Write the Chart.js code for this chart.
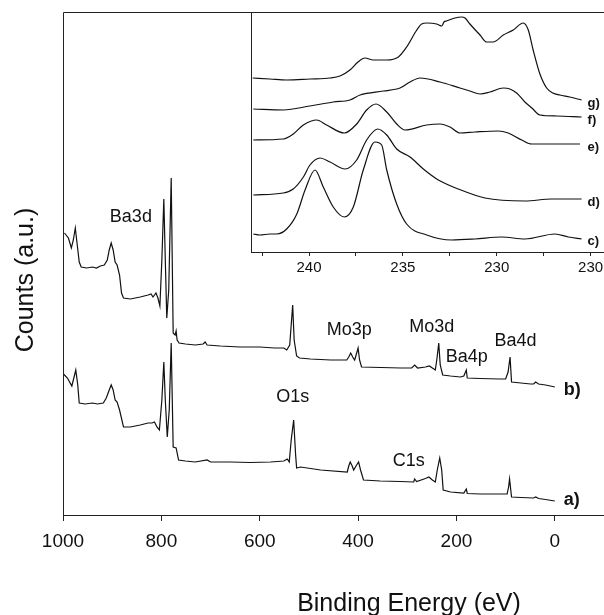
<!DOCTYPE html>
<html><head><meta charset="utf-8">
<script src="https://cdn.jsdelivr.net/npm/chart.js@4.4.0/dist/chart.umd.min.js"></script>
<style>
html,body{margin:0;padding:0;background:#fff;overflow:hidden;width:604px;height:615px;}
#main{position:absolute;left:0;top:0;width:604px;height:615px;}
#inset{position:absolute;left:241px;top:0;width:380px;height:290px;}
</style></head><body>
<canvas id="main" width="604" height="615"></canvas>
<canvas id="inset" width="380" height="290"></canvas>
<script>
// ---------- main survey spectra (binding energy eV, counts a.u.) ----------
const energyB = [997,989,983,979,975,971,967,963,952,940,932,924,916,910,906,902,898,894,890,885,881,877,863,843,827,821,817,811,807,803,799,795,792,789,785,780,776,772,770,768,764,751,731,715,711,707,680,640,600,570,551,545,539,533,530,525,519,497,456,423,419,415,411,407,404,400,397,393,354,313,291,285,279,263,255,249,243,240,236,233,228,212,192,185,180,178,152,112,100,95,91,88,69,49,43,39,33,19,9,0];
const countsB = [282,277,267,275,287,270,253,248,247,248,247,249,250,255,265,272,265,253,250,240,222,217,216,218,220,221,218,222,217,209,255,316,255,197,225,337,182,180,184,175,172,171,170,171,173,170,169,168,168,167,167,165,170,210,175,159,157,156,155,155,158,162,158,155,160,167,155,148,147.5,147,147,150,147,148,149,147,145,155,172,150,140,139,138,139,145,137,136.5,136,136,143,158,133,132,131,131,133,131,130,129,128];
const energyA = [999,991,982,978,974,970,967,955,940,930,918,912,906,902,898,894,890,885,877,863,843,827,819,814,809,804,799,795,792,788,784,780,776,770,765,751,731,707,700,660,619,578,551,544,540,536,531,527,525,517,476,422,419,416,412,409,403,399,395,389,355,314,287,285,281,263,256,249,243,239,234,230,227,212,185,180,178,152,97,94,92,88,69,43,39,33,19,0];
const countsA = [141,137,129,137,145,130,112,111,112,111,112,117,125,130,125,115,113,105,88,88,90,92,92,93,88,85,115,153,115,78,105,172,68,67,55,54,53,55,53,53,52.5,53,54,56,53,75,95,60,47,48,45,43,49,53,49,45,50,53,45,35,34,33.5,33,36,33.5,36.5,38,35,33,45,57,45,25,23,22,26,21.5,21,21,28,36,18,17.5,17,18,16.5,15.5,14];
const mainTickValues = [1000,800,600,400,200,0];
const peakLabels = ['Ba3d','O1s','Mo3p','Mo3d','Ba4p','Ba4d','C1s'];
const peakLabelE = [862,533,418,250,179,80,297];
const peakLabelV = [298,118,185,188,158,174,54];
const traceLabels = ['b)','a)'];
const traceLabelE = [-18,-18];
const traceLabelV = [125,15];

// ---------- inset: Mo3d region ----------
const gE = [243.00,242.08,241.19,239.95,238.88,238.35,237.82,237.39,237.02,236.58,235.86,235.24,234.80,234.26,234.00,233.73,233.20,233.08,232.93,232.81,232.67,232.23,231.87,231.69,231.43,230.89,230.54,230.19,229.65,229.12,228.59,228.32,228.06,227.70,227.34,227.01,226.64,226.11,225.48];
const gV = [174,173,172,173,174,176,182,190,194,192,192,195,205,222,228,229,228,227,226,230,231,234,235,234,228,217,210,210,217,222,229,222,202,178,164,159,157,155,152];
const fE = [242.97,241.37,239.95,238.71,237.82,237.28,236.04,235.15,234.62,234.09,233.02,231.96,231.43,230.89,230.36,229.65,229.30,228.94,228.50,228.13,227.70,226.81,225.48];
const fV = [143,142,146,150,152,157,161,164,170,174,170,164,161,158,160,164,163,159,150,144,137,136,135];
const eE = [242.97,241.37,240.84,240.30,239.59,239.06,238.12,237.46,236.93,236.43,235.86,235.33,234.89,233.73,233.02,232.49,231.96,231.16,229.92,229.39,228.67,228.14,225.57];
const eV = [112,113,118,127,132,127,119,128,142,148,140,128,122,127,128,125,119,120,121,119,112,108,108];
const dE = [242.97,241.37,240.84,240.30,239.95,239.41,238.88,238.08,237.46,236.93,236.34,235.86,235.33,234.62,233.91,233.11,232.05,230.63,228.50,227.08,225.48];
const dV = [57,59,63,75,87,94,90,83,92,112,123,117,103,95,83,72,63,54,51,53,53];
const cE = [242.97,242.61,242.08,241.72,241.19,240.65,240.21,239.68,239.24,238.71,238.12,237.64,237.11,236.49,236.13,235.86,235.33,234.80,233.73,232.40,231.16,229.74,228.50,226.90,226.19,225.48];
const cV = [18,17,18,18,23,38,62,82,65,45,35,45,82,110,107,82,48,28,17,12,13,15,13,18,15,13];
const insetTickValues = [242.5,240,237.5,235,232.5,230,227.5,225];
const insetLabelValues = [240,235,230,225];
const insetTickLabels = ['240','235','230','230'];
const insetCurveLabels = ['g)','f)','e)','d)','c)'];
const insetCurveLabelE = [225.16,225.16,225.16,225.16,225.16];
const insetCurveLabelV = [149,132,105,50,11];

const FONT = "'Liberation Sans', Arial, Helvetica, sans-serif";
const INK = '#111';
const pts = (xs, ys) => xs.map((x, i) => ({x: x, y: ys[i]}));

const framePlugin = {
  id: 'frame',
  afterDraw(chart) {
    const {ctx, chartArea: ca} = chart;
    ctx.save();
    ctx.strokeStyle = '#222';
    ctx.lineWidth = 1;
    ctx.beginPath();
    ctx.moveTo(Math.round(ca.left) + 0.5, Math.round(ca.bottom));
    ctx.lineTo(Math.round(ca.left) + 0.5, Math.round(ca.top) + 0.5);
    ctx.lineTo(ca.right + 20, Math.round(ca.top) + 0.5);
    ctx.stroke();
    ctx.restore();
  }
};

function drawLabels(chart, texts, xs, ys, font, align) {
  const {ctx, scales} = chart;
  ctx.save();
  ctx.fillStyle = INK;
  ctx.font = font;
  ctx.textAlign = align;
  ctx.textBaseline = 'middle';
  texts.forEach((t, i) => {
    ctx.fillText(t, scales.x.getPixelForValue(xs[i]), scales.y.getPixelForValue(ys[i]));
  });
  ctx.restore();
}

const mainText = {
  id: 'mainText',
  afterDraw(chart) {
    drawLabels(chart, peakLabels, peakLabelE, peakLabelV, '18px ' + FONT, 'center');
    drawLabels(chart, traceLabels, traceLabelE, traceLabelV, 'bold 18px ' + FONT, 'left');
    const ctx = chart.ctx;
    ctx.save();
    ctx.fillStyle = INK;
    ctx.font = '25px ' + FONT;
    ctx.textAlign = 'center';
    ctx.textBaseline = 'alphabetic';
    ctx.fillText('Binding Energy (eV)', 409, 611);
    ctx.translate(33, 280);
    ctx.rotate(-Math.PI / 2);
    ctx.fillText('Counts (a.u.)', 0, 0);
    ctx.restore();
  }
};

const insetText = {
  id: 'insetText',
  afterDraw(chart) {
    drawLabels(chart, insetCurveLabels, insetCurveLabelE, insetCurveLabelV, 'bold 13px ' + FONT, 'left');
  }
};

const lineDs = (data, extra) => Object.assign({
  data: data, borderColor: INK, borderWidth: 1.2, pointRadius: 0, fill: false, tension: 0
}, extra || {});

new Chart(document.getElementById('main'), {
  type: 'line',
  data: {datasets: [lineDs(pts(energyB, countsB)), lineDs(pts(energyA, countsA))]},
  options: {
    responsive: false, animation: false, events: [],
    layout: {padding: {left: 63, top: 12, right: 0, bottom: 0}},
    plugins: {legend: {display: false}, tooltip: {enabled: false}},
    scales: {
      x: {
        type: 'linear', reverse: true, min: -100, max: 1000,
        afterBuildTicks: s => { s.ticks = mainTickValues.map(v => ({value: v})); },
        afterFit: s => { s.height = 100; },
        grid: {display: true, drawOnChartArea: false, drawTicks: true, tickLength: 6, color: '#222', lineWidth: 1},
        border: {display: true, color: '#222', width: 1},
        ticks: {color: INK, padding: 9, maxRotation: 0, font: {family: FONT, size: 19}, callback: v => String(v)}
      },
      y: {display: false, min: 0, max: 503}
    }
  },
  plugins: [framePlugin, mainText]
});

new Chart(document.getElementById('inset'), {
  type: 'line',
  data: {datasets: [
    lineDs(pts(gE, gV), {cubicInterpolationMode: 'monotone'}),
    lineDs(pts(fE, fV), {cubicInterpolationMode: 'monotone'}),
    lineDs(pts(eE, eV), {cubicInterpolationMode: 'monotone'}),
    lineDs(pts(dE, dV), {cubicInterpolationMode: 'monotone'}),
    lineDs(pts(cE, cV), {cubicInterpolationMode: 'monotone'})
  ]},
  options: {
    responsive: false, animation: false, events: [],
    layout: {padding: {left: 10, top: 12, right: 18, bottom: 0}},
    plugins: {legend: {display: false}, tooltip: {enabled: false}},
    scales: {
      x: {
        type: 'linear', reverse: true, min: 224.34, max: 243.09,
        afterBuildTicks: s => { s.ticks = insetTickValues.map(v => ({value: v})); },
        afterFit: s => { s.height = 38; },
        grid: {display: true, drawOnChartArea: false, drawTicks: true, tickLength: 4, color: '#222', lineWidth: 1},
        border: {display: true, color: '#222', width: 1},
        ticks: {color: INK, padding: 3, maxRotation: 0, autoSkip: false, font: {family: FONT, size: 15},
          callback: v => { const i = insetLabelValues.indexOf(v); return i >= 0 ? insetTickLabels[i] : ''; }}
      },
      y: {display: false, min: 0, max: 240}
    }
  },
  plugins: [framePlugin, insetText]
});
</script>
</body></html>
